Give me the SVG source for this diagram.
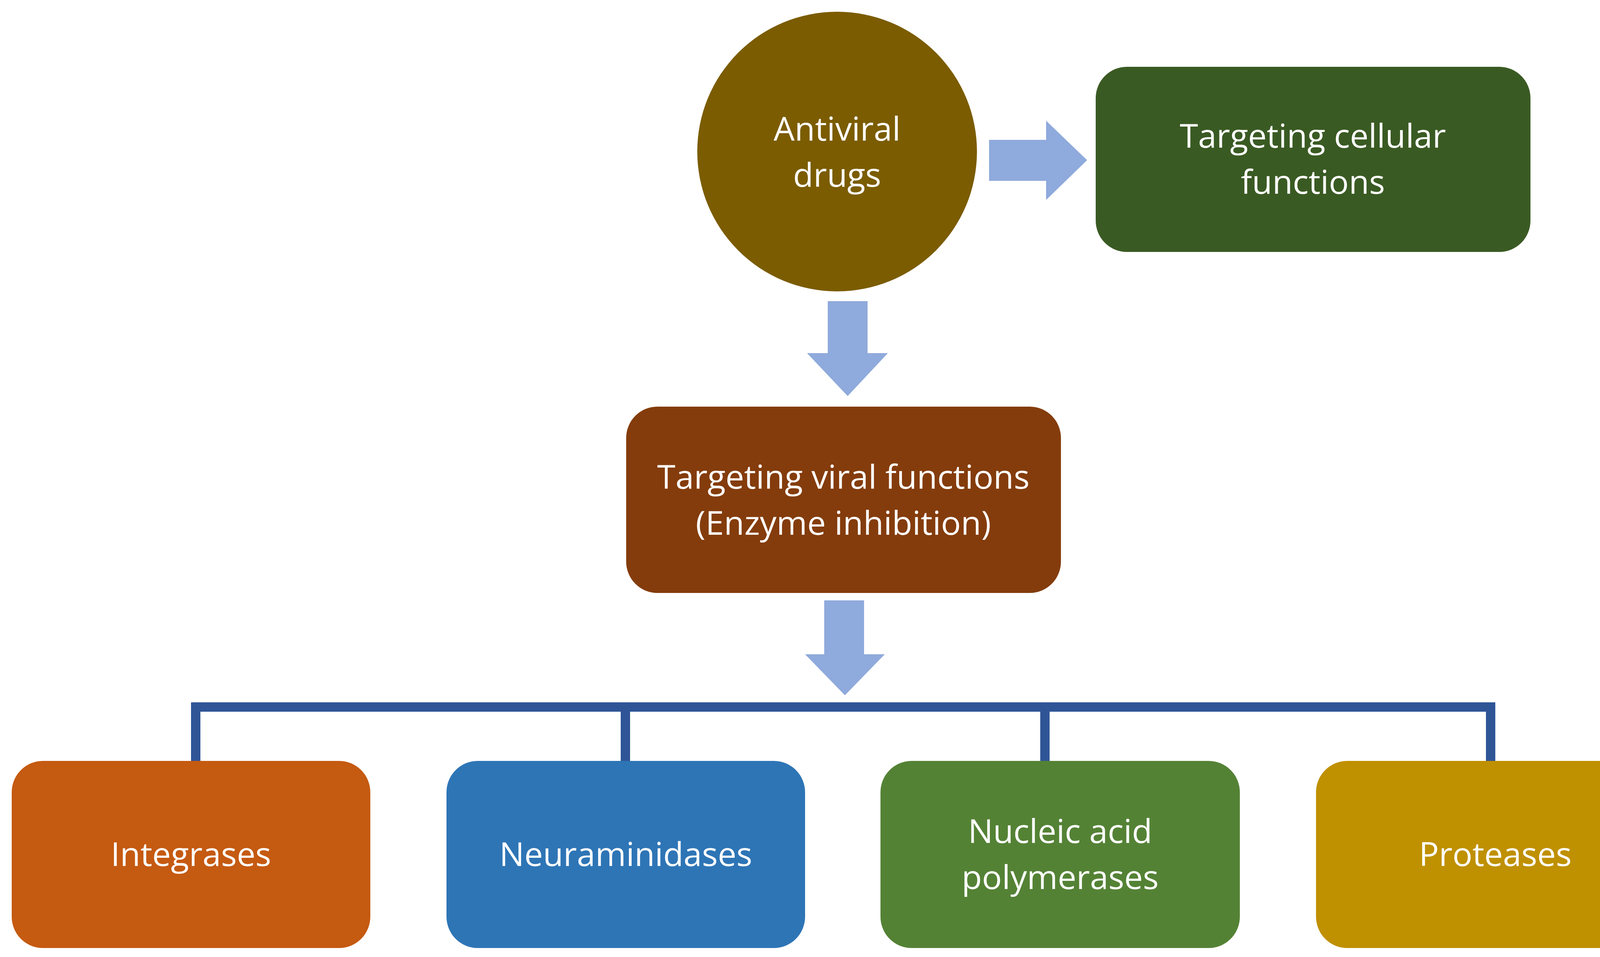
<svg xmlns="http://www.w3.org/2000/svg" width="4312" height="2450" viewBox="0 0 4312 2450">
<style>
text{font-family:"Open Sans","Noto Sans","Liberation Sans",sans-serif;font-size:85px;fill:#fff;text-anchor:middle}
.arr{fill:#8FAADC}
.bus{stroke:#2F5597;stroke-width:24;fill:none}
</style>
<rect width="4312" height="2450" fill="#fff"/>
<g id="connectors">
<polygon class="arr" points="2532,358 2678,358 2678,309 2783,410 2678,512 2678,463 2532,463"/>
<polygon class="arr" points="2119,771 2221,771 2221,904 2273,904 2170,1014 2066,904 2119,904"/>
<polygon class="arr" points="2110,1537 2212,1537 2212,1675 2265,1675 2163,1780 2061,1675 2110,1675"/>
<path class="bus" d="M501,1948 V1810 H3816 V1948 M1601,1810 V1948 M2675,1810 V1948"/>
</g>
<g id="antiviral"><circle cx="2143" cy="388" r="358" fill="#7B5C00"/><text x="2143" y="360">Antiviral</text><text x="2143" y="478">drugs</text></g>
<g id="cellular"><rect x="2805" y="171" width="1113" height="474" rx="80" fill="#3A5A23"/><text x="3361" y="378">Targeting cellular</text><text x="3361" y="496">functions</text></g>
<g id="viral"><rect x="1603" y="1041" width="1113" height="477" rx="80" fill="#843C0C"/><text x="2159" y="1251">Targeting viral functions</text><text x="2159" y="1369">(Enzyme inhibition)</text></g>
<g id="integrases"><rect x="30" y="1948" width="918" height="479" rx="80" fill="#C55A11"/><text x="489" y="2217">Integrases</text></g>
<g id="neuraminidases"><rect x="1143" y="1948" width="918" height="479" rx="80" fill="#2E75B6"/><text x="1602" y="2217">Neuraminidases</text></g>
<g id="polymerases"><rect x="2254" y="1948" width="920" height="479" rx="80" fill="#548235"/><text x="2714" y="2158">Nucleic acid</text><text x="2714" y="2276">polymerases</text></g>
<g id="proteases"><rect x="3369" y="1948" width="918" height="479" rx="80" fill="#BF9000"/><text x="3828" y="2217">Proteases</text></g>
</svg>
